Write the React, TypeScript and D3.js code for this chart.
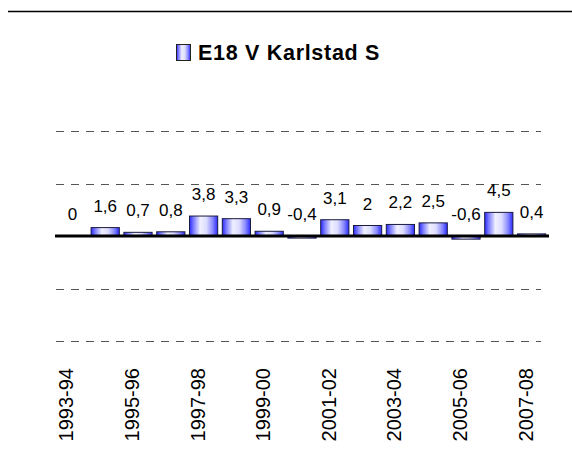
import React from "react";
import * as d3 from "d3";

const categories = ["1993-94","1994-95","1995-96","1996-97","1997-98","1998-99","1999-00","2000-01","2001-02","2002-03","2003-04","2004-05","2005-06","2006-07","2007-08"];
const values = [0, 1.6, 0.7, 0.8, 3.8, 3.3, 0.9, -0.4, 3.1, 2, 2.2, 2.5, -0.6, 4.5, 0.4];
const gridTicks = [-20, -10, 0, 10, 20];
const seriesName = "E18 V Karlstad S";

const W = 572, H = 458;

export default function App() {
  const x = d3.scaleBand<string>().domain(categories).range([56, 548]).paddingInner(0.14).paddingOuter(0.07);
  const y = d3.scaleLinear().domain([-20, 20]).range([341, 131]);
  const fmt = (v: number) => String(v).replace(".", ",");
  const font = "Liberation Sans, Arial, sans-serif";
  return (
    <svg width={W} height={H} style={{ position: "absolute", left: 0, top: 0 }} fontFamily={font}>
      <defs>
        <linearGradient id="barGrad" x1="0" x2="1" y1="0" y2="0">
          <stop offset="0" stopColor="#2a2aff" />
          <stop offset="0.15" stopColor="#8080ff" />
          <stop offset="0.38" stopColor="#f0f0ff" />
          <stop offset="0.6" stopColor="#dcdcff" />
          <stop offset="0.82" stopColor="#8a8aff" />
          <stop offset="1" stopColor="#2a2aff" />
        </linearGradient>
      </defs>
      <rect width={W} height={H} fill="#fff" />
      <line x1={8} x2={572} y1={11.5} y2={11.5} stroke="#000" strokeWidth={1.5} />
      {/* legend */}
      <rect x={176.5} y={44.5} width={14} height={16} fill="url(#barGrad)" stroke="#222" strokeWidth={1} />
      <text x={198} y={60} fontSize={21.5} fontWeight="bold" fill="#000" letterSpacing={0.7}>{seriesName}</text>
      {/* gridlines */}
      {gridTicks.filter(t => t !== 0).map(t => (
        <line key={t} x1={56} x2={541} y1={Math.round(y(t)) + 0.5} y2={Math.round(y(t)) + 0.5}
          stroke="#555" strokeWidth={1.2} strokeDasharray="8,7" />
      ))}
      {/* bars */}
      {categories.map((c, i) => {
        const v = values[i];
        const y0 = y(0), y1 = y(v);
        const top = Math.min(y0, y1), h = Math.abs(y1 - y0);
        return h > 0 ? (
          <rect key={c} x={x(c)!} y={top} width={x.bandwidth()} height={h}
            fill="url(#barGrad)" stroke="#1a1a40" strokeWidth={1} />
        ) : null;
      })}
      <line x1={55} x2={549} y1={y(0)} y2={y(0)} stroke="#000" strokeWidth={3} />
      {/* data labels */}
      {categories.map((c, i) => {
        const v = values[i];
        return (
          <text key={c} x={x(c)! + x.bandwidth() / 2} y={y(Math.max(v, 0)) - 16}
            fontSize={17} textAnchor="middle" fill="#000">{fmt(v)}</text>
        );
      })}
      {/* x labels */}
      {categories.map((c, i) => i % 2 === 0 ? (
        <text key={c} transform={`translate(${x(c)! + x.bandwidth() / 2 + 1},${368}) rotate(-90)`}
          fontSize={20} textAnchor="end" fill="#000">{c}</text>
      ) : null)}
    </svg>
  );
}
